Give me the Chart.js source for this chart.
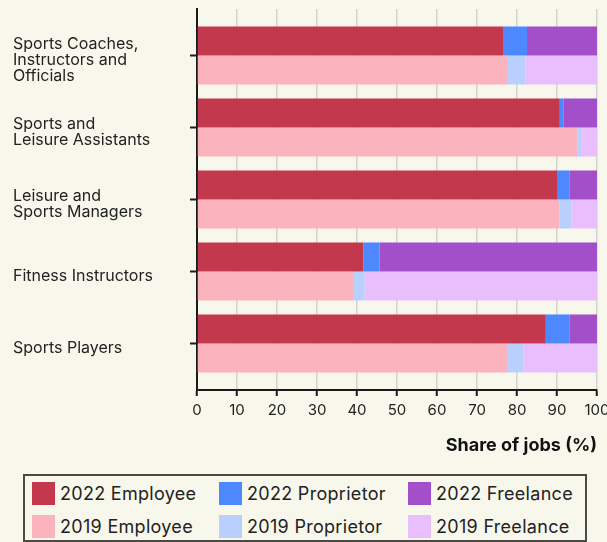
<!DOCTYPE html>
<html>
<head>
<meta charset="utf-8">
<script src="https://cdn.jsdelivr.net/npm/chart.js@4.4.1/dist/chart.umd.min.js"></script>
<style>
  html, body { margin: 0; padding: 0; background: #f8f7ec; }
  #wrap { position: relative; width: 607px; height: 542px; overflow: hidden; background: #f8f7ec; }
  #chart { position: absolute; left: 0; top: 0; }
  #legend {
    position: absolute; left: 23px; top: 474px; width: 564px; height: 68px;
    box-sizing: border-box; border: 2px solid #4a4a44;
    padding: 6px 0 0 7px;
    display: grid; grid-template-columns: 187px 189px 1fr; row-gap: 8px;
    font-family: Inter, sans-serif; font-size: 18px; letter-spacing: 0.3px; color: #222;
  }
  .item { display: flex; align-items: center; height: 23px; white-space: nowrap; }
  .swatch { width: 23px; height: 23px; margin-right: 5px; flex: none; }
</style>
</head>
<body>
<div id="wrap">
  <canvas id="chart" width="627" height="470"></canvas>
  <div id="legend"></div>
</div>
<script>
// DATA
const categories = [
  ["Sports Coaches,", "Instructors and", "Officials"],
  ["Sports and", "Leisure Assistants"],
  ["Leisure and", "Sports Managers"],
  "Fitness Instructors",
  "Sports Players"
];
const employee2022   = [76.5, 90.7, 90.0, 41.6, 87.2];
const proprietor2022 = [6.0, 1.0, 3.2, 4.0, 6.0];
const freelance2022  = [17.5, 8.3, 6.8, 54.4, 6.8];
const employee2019   = [77.5, 95.2, 90.6, 39.0, 77.5];
const proprietor2019 = [4.6, 0.9, 3.0, 2.9, 4.1];
const freelance2019  = [17.9, 3.9, 6.4, 58.1, 18.4];
const xMin = 0, xMax = 100, xStep = 10;

Chart.defaults.font.family = "Inter, sans-serif";
Chart.defaults.color = "#222";

const ink = "#1a1a1a";

function ds(label, data, stack, color) {
  return { label: label, data: data, stack: stack, backgroundColor: color, borderWidth: 0 };
}

const chart = new Chart(document.getElementById("chart"), {
  type: "bar",
  data: {
    labels: categories,
    datasets: [
      ds("2022 Employee", employee2022, "2022", "#c4384e"),
      ds("2022 Proprietor", proprietor2022, "2022", "#4d88ff"),
      ds("2022 Freelance", freelance2022, "2022", "#a24fc9"),
      ds("2019 Employee", employee2019, "2019", "#fbb4bd"),
      ds("2019 Proprietor", proprietor2019, "2019", "#b9d0ff"),
      ds("2019 Freelance", freelance2019, "2019", "#e9befd")
    ]
  },
  options: {
    indexAxis: "y",
    responsive: false,
    animation: false,
    categoryPercentage: 0.806,
    barPercentage: 1,
    layout: { padding: { left: 13, right: 30, top: 9, bottom: 10 } },
    plugins: {
      legend: { display: false },
      tooltip: { enabled: false }
    },
    scales: {
      x: {
        stacked: true,
        min: xMin, max: xMax,
        ticks: { stepSize: xStep, font: { size: 15 }, padding: 5, color: "#222" },
        grid: { color: "#d3d2cc", lineWidth: 1.5, tickColor: ink, tickWidth: 2, tickLength: 6 },
        border: { color: ink, width: 2 },
        title: {
          display: true, text: "Share of jobs (%)", align: "end",
          font: { size: 18, weight: "bold" }, color: "#111",
          padding: { top: 12, bottom: 4 }
        },
        afterFit: function(scale) { scale.height = 70; }
      },
      y: {
        stacked: true,
        ticks: {
          crossAlign: "far", padding: 0, labelOffset: 5,
          font: { size: 16, lineHeight: "16px" }, color: "#222"
        },
        grid: { offset: false, drawOnChartArea: false, tickColor: ink, tickWidth: 2, tickLength: 7 },
        border: { color: ink, width: 2 },
        // axis runs a little past the first and last group of bars
        afterBuildTicks: function(scale) {
          const extra = 0.146;
          scale._startValue = -0.5 - extra;
          scale._valueRange = categories.length + 2 * extra;
        },
        afterFit: function(scale) { scale.width = 184; }
      }
    }
  }
});

// LEGEND
const legend = document.getElementById("legend");
chart.data.datasets.forEach(d => {
  legend.innerHTML += `<div class="item"><span class="swatch" style="background:${d.backgroundColor}"></span>${d.label}</div>`;
});
</script>
</body>
</html>
